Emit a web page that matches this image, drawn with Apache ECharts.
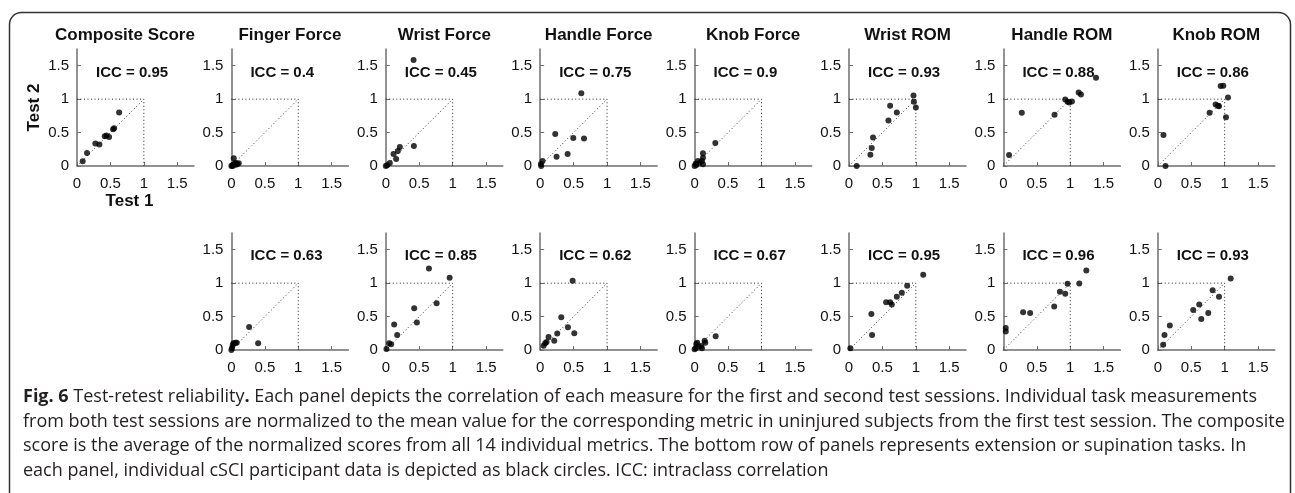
<!DOCTYPE html>
<html>
<head>
<meta charset="utf-8">
<script src="https://cdn.jsdelivr.net/npm/echarts@6/dist/echarts.min.js"></script>
<style>
html,body{margin:0;padding:0;background:#fff;}
#chart{width:1295px;height:493px;}
</style>
</head>
<body>
<div id="chart"></div>
<script>
// ---- data ----
const panelTitles = ['Composite Score','Finger Force','Wrist Force','Handle Force','Knob Force','Wrist ROM','Handle ROM','Knob ROM'];
const iccTop = ['0.95','0.4','0.45','0.75','0.9','0.93','0.88','0.86'];
const iccBottom = ['0.63','0.85','0.62','0.67','0.95','0.96','0.93'];
const tickValues = [0, 0.5, 1, 1.5];
const tickLabels = ['0', '0.5', '1', '1.5'];
const axisName1 = 'Test 1';
const axisName2 = 'Test 2';

// top row: flexion / pronation tasks and composite score  [test1, test2]
const compositeScore = [[0.085,0.07],[0.15,0.195],[0.275,0.335],[0.335,0.32],[0.415,0.445],[0.44,0.455],[0.48,0.435],[0.54,0.55],[0.555,0.565],[0.63,0.80]];
const fingerForceTop = [[0.0,0.0],[0.015,0.01],[0.03,0.02],[0.05,0.03],[0.07,0.02],[0.09,0.03],[0.11,0.04],[0.035,0.115],[0.02,0.0],[0.06,0.05]];
const wristForceTop = [[0.0,0.0],[0.02,0.01],[0.06,0.045],[0.115,0.18],[0.155,0.105],[0.18,0.225],[0.21,0.285],[0.42,0.30],[0.415,1.585]];
const handleForceTop = [[0.615,1.09],[0.225,0.48],[0.495,0.42],[0.655,0.41],[0.245,0.14],[0.41,0.18],[0.035,0.075],[0.015,0.0],[0.01,0.03]];
const knobForceTop = [[0.31,0.345],[0.125,0.19],[0.125,0.125],[0.11,0.075],[0.125,0.025],[0.05,0.075],[0.015,0.035],[0.0,0.0],[0.075,0.05],[0.025,0.015]];
const wristRomTop = [[0.115,0.0],[0.32,0.17],[0.34,0.27],[0.36,0.425],[0.59,0.68],[0.615,0.90],[0.715,0.80],[0.965,1.055],[0.97,0.96],[1.0,0.875]];
const handleRomTop = [[0.085,0.165],[0.275,0.795],[0.765,0.765],[0.925,0.995],[0.96,0.96],[0.985,0.95],[1.025,0.965],[1.125,1.10],[1.16,1.07],[1.385,1.32]];
const knobRomTop = [[0.085,0.465],[0.115,0.0],[0.775,0.795],[0.865,0.92],[0.915,0.895],[0.94,1.195],[0.98,1.20],[1.05,1.025],[1.02,0.73],[0.9,0.9]];

// bottom row: extension / supination tasks
const fingerForceBottom = [[0.0,0.0],[0.01,0.03],[0.02,0.07],[0.03,0.10],[0.06,0.11],[0.08,0.11],[0.265,0.345],[0.40,0.10]];
const wristForceBottom = [[0.645,1.22],[0.955,1.08],[0.425,0.625],[0.465,0.41],[0.76,0.70],[0.125,0.38],[0.17,0.225],[0.05,0.10],[0.08,0.085],[0.01,0.015]];
const handleForceBottom = [[0.485,1.035],[0.315,0.49],[0.415,0.34],[0.51,0.25],[0.255,0.245],[0.21,0.14],[0.125,0.195],[0.095,0.12],[0.075,0.10],[0.05,0.065]];
const knobForceBottom = [[0.315,0.205],[0.15,0.14],[0.16,0.11],[0.11,0.025],[0.10,0.06],[0.04,0.11],[0.025,0.09],[0.015,0.025],[0.06,0.05],[0.0,0.01]];
const wristRomBottom = [[0.02,0.025],[0.335,0.54],[0.345,0.225],[0.555,0.715],[0.615,0.715],[0.64,0.68],[0.715,0.795],[0.79,0.855],[0.87,0.96],[1.11,1.125]];
const handleRomBottom = [[0.035,0.33],[0.035,0.275],[0.295,0.565],[0.40,0.555],[0.76,0.65],[0.845,0.87],[0.925,0.84],[0.96,0.99],[1.135,0.995],[1.24,1.19]];
const knobRomBottom = [[0.08,0.08],[0.10,0.225],[0.18,0.365],[0.53,0.60],[0.62,0.68],[0.65,0.465],[0.755,0.555],[0.82,0.895],[0.915,0.795],[1.09,1.07]];

const refBox = [[0,1],[1,1],[1,0]];
const refDiag = [[0,0],[1,1]];

const captionLines = [
  ['Fig. 6', ' Test-retest reliability', '.', ' Each panel depicts the correlation of each measure for the first and second test sessions. Individual task measurements'],
  'from both test sessions are normalized to the mean value for the corresponding metric in uninjured subjects from the first test session. The composite',
  'score is the average of the normalized scores from all 14 individual metrics. The bottom row of panels represents extension or supination tasks. In',
  'each panel, individual cSCI participant data is depicted as black circles. ICC: intraclass correlation'
];

// ---- layout ----
const topData = [compositeScore, fingerForceTop, wristForceTop, handleForceTop, knobForceTop, wristRomTop, handleRomTop, knobRomTop];
const bottomData = [null, fingerForceBottom, wristForceBottom, handleForceBottom, knobForceBottom, wristRomBottom, handleRomBottom, knobRomBottom];

const X0 = 77, DX = 154.4, W = 117, H = 117;
const ROW_TOP = [49, 233];
const FONT = '"Liberation Sans", Arial, Helvetica, sans-serif';

const grids = [], xAxes = [], yAxes = [], series = [], titles = [], graphics = [];

function addPanel(col, row, data, icc) {
  const idx = grids.length;
  const left = X0 + DX * col;
  const top = ROW_TOP[row];
  grids.push({left: left, top: top, width: W, height: H, containLabel: false});
  const fmt = function (v) { const i = tickValues.indexOf(v); return i >= 0 ? tickLabels[i] : ''; };
  const mk = function (margin) {
    return {
      min: 0, max: 1.75, interval: 0.5,
      axisLine: {show: true, lineStyle: {color: '#6e6e6e', width: 1.5}},
      axisTick: {show: true, inside: true, length: 4, lineStyle: {color: '#6e6e6e', width: 1}, customValues: tickValues},
      axisLabel: {show: true, color: '#111', fontFamily: FONT, fontSize: 15, margin: margin, customValues: tickValues, formatter: fmt},
      splitLine: {show: false}
    };
  };
  const xa = Object.assign({type: 'value', gridIndex: idx}, mk(10));
  const ya = Object.assign({type: 'value', gridIndex: idx}, mk(8));
  if (col === 0 && row === 0) {
    xa.name = axisName1; xa.nameLocation = 'middle'; xa.nameGap = 27;
    xa.nameTextStyle = {fontFamily: FONT, fontWeight: 'bold', fontSize: 17, color: '#111', padding: [0, 12, 0, 0]};
    ya.name = axisName2; ya.nameLocation = 'middle'; ya.nameGap = 34; ya.nameRotate = 90;
    ya.nameTextStyle = {fontFamily: FONT, fontWeight: 'bold', fontSize: 17, color: '#111'};
  }
  xAxes.push(xa); yAxes.push(ya);
  series.push({type: 'line', xAxisIndex: idx, yAxisIndex: idx, data: refBox, symbol: 'none', silent: true,
    lineStyle: {color: '#222', width: 1, type: [1, 2.5]}, z: 1, animation: false});
  series.push({type: 'line', xAxisIndex: idx, yAxisIndex: idx, data: refDiag, symbol: 'none', silent: true,
    lineStyle: {color: '#333', width: 1, type: [1, 2.5]}, z: 1, animation: false});
  series.push({type: 'scatter', xAxisIndex: idx, yAxisIndex: idx, data: data, symbol: 'circle', symbolSize: 6,
    itemStyle: {color: '#000'}, z: 3, animation: false});
  titles.push({text: 'ICC = ' + icc, left: left + 14, top: (row === 0 ? 60 : 243),
    textStyle: {fontFamily: FONT, fontWeight: 'bold', fontSize: 15, color: '#111'}});
  if (row === 0) {
    const cx = col === 0 ? 125 : left + W / 2;
    graphics.push({type: 'text', x: cx, y: 35, style: {text: panelTitles[col], font: 'bold 17px ' + FONT,
      fill: '#111', align: 'center', verticalAlign: 'middle'}});
  }
}

for (let c = 0; c < 8; c++) addPanel(c, 0, topData[c], iccTop[c]);
for (let c = 1; c < 8; c++) addPanel(c, 1, bottomData[c], iccBottom[c - 1]);

// frame
graphics.push({type: 'rect', shape: {x: 9.5, y: 12.5, width: 1281, height: 500, r: [12, 12, 0, 0]},
  style: {fill: 'none', stroke: '#333', lineWidth: 1.5}, silent: true, z: -1});

// caption
const CAP_FONT = '"Open Sans", "Noto Sans", sans-serif';
const CAP_SIZE = 18;
const capY = [397, 421.5, 446, 470.5];
graphics.push({type: 'text', x: 23, y: capY[0], style: {
  text: '{b|' + captionLines[0][0] + '}{n|' + captionLines[0][1] + '}{b|' + captionLines[0][2] + '}{n|' + captionLines[0][3] + '}',
  verticalAlign: 'middle',
  rich: {b: {font: 'bold ' + CAP_SIZE + 'px ' + CAP_FONT, fill: '#231f20'}, n: {font: CAP_SIZE + 'px ' + CAP_FONT, fill: '#231f20'}}
}});
for (let i = 1; i < 4; i++) {
  graphics.push({type: 'text', x: 23, y: capY[i], style: {text: captionLines[i], font: CAP_SIZE + 'px ' + CAP_FONT,
    fill: '#231f20', verticalAlign: 'middle'}});
}

const chart = echarts.init(document.getElementById('chart'), null, {renderer: 'canvas'});
chart.setOption({
  backgroundColor: '#fff',
  animation: false,
  title: titles,
  grid: grids,
  xAxis: xAxes,
  yAxis: yAxes,
  series: series,
  graphic: graphics
});
</script>
</body>
</html>
